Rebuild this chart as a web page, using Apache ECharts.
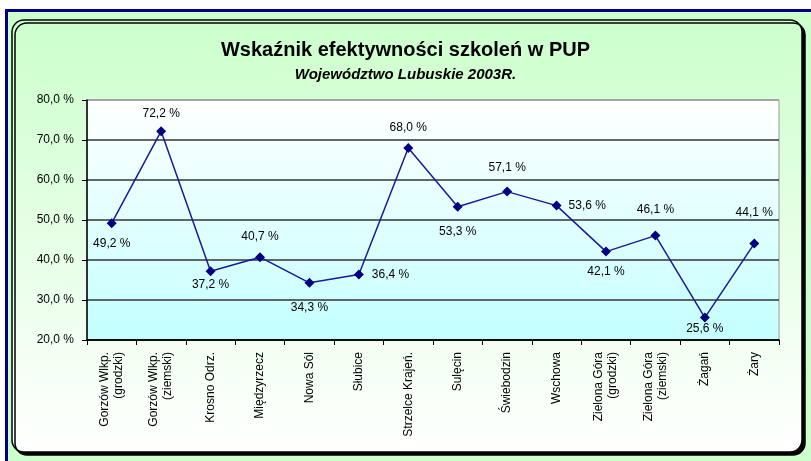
<!DOCTYPE html>
<html>
<head>
<meta charset="utf-8">
<script src="https://cdn.jsdelivr.net/npm/echarts@6/dist/echarts.min.js"></script>
<style>
    html, body { margin: 0; padding: 0; background: #fff; }
    #main { width: 811px; height: 461px; }
</style>
</head>
<body>
<div id="main"></div>
<script>
// dane z wykresu
var powiaty = ['Gorzów Wlkp.\n(grodzki)', 'Gorzów Wlkp.\n(ziemski)', 'Krosno Odrz.', 'Międzyrzecz', 'Nowa Sól',
    'Słubice', 'Strzelce Krajeń.', 'Sulęcin', 'Świebodzin', 'Wschowa',
    'Zielona Góra\n(grodzki)', 'Zielona Góra\n(ziemski)', 'Żagań', 'Żary'];
var wskaznik = [49.2, 72.2, 37.2, 40.7, 34.3, 36.4, 68.0, 53.3, 57.1, 53.6, 42.1, 46.1, 25.6, 44.1];
// gdzie stoi etykieta danej i jak daleko od punktu
var pozycje = ['bottom', 'top', 'bottom', 'top', 'bottom', 'right', 'top', 'bottom', 'top', 'right', 'bottom', 'top', 'bottom', 'top'];
var odstepy = [9, 7, 2, 10, 14, 8, 9, 14, 13, 7, 9, 15, 0, 20];

var myChart = echarts.init(document.getElementById('main'));

function procent(v) {
    return v.toFixed(1).replace('.', ',') + ' %';
}

var punkty = wskaznik.map(function (v, i) {
    return { value: v, label: { position: pozycje[i], distance: odstepy[i] } };
});

var option = {
    backgroundColor: '#ccffcc',
    textStyle: { fontFamily: 'Liberation Sans, Arial, sans-serif' },
    title: {
        text: 'Wskaźnik efektywności szkoleń w PUP',
        subtext: 'Województwo Lubuskie 2003R.',
        left: 'center',
        top: 35,
        itemGap: 7,
        textStyle: { fontSize: 20, fontWeight: 'bold', color: '#000' },
        subtextStyle: { fontSize: 15, fontWeight: 'bold', fontStyle: 'italic', color: '#000' }
    },
    graphic: [
        // biały pasek i granatowa ramka
        { type: 'rect', z: -20, shape: { x: 0, y: 0, width: 811, height: 10 }, style: { fill: '#fff' } },
        { type: 'rect', z: -20, shape: { x: 0, y: 0, width: 5, height: 461 }, style: { fill: '#fff' } },
        { type: 'rect', z: -19, shape: { x: 5, y: 9, width: 806, height: 3 }, style: { fill: '#000080' } },
        { type: 'rect', z: -19, shape: { x: 5, y: 9, width: 3, height: 452 }, style: { fill: '#000080' } },
        // zaokrąglona ramka wykresu
        {
            type: 'rect', z: -18,
            shape: { x: 12, y: 20, width: 790, height: 432, r: 12 },
            style: {
                fill: new echarts.graphic.LinearGradient(0, 0, 0, 1, [
                    { offset: 0, color: '#ccffcc' },
                    { offset: 1, color: '#ffffff' }
                ]),
                stroke: '#000',
                lineWidth: 1.5,
                shadowColor: '#000',
                shadowOffsetX: 3,
                shadowOffsetY: 3,
                shadowBlur: 0
            }
        }
    ],
    grid: {
        left: 87,
        right: 32,
        top: 100,
        bottom: 121,
        show: true,
        borderColor: '#999',
        borderWidth: 1,
        backgroundColor: new echarts.graphic.LinearGradient(0, 0, 0, 1, [
            { offset: 0, color: '#ffffff' },
            { offset: 1, color: '#c4ffff' }
        ])
    },
    xAxis: {
        type: 'category',
        data: powiaty,
        boundaryGap: true,
        axisLine: { lineStyle: { color: '#000', width: 1.5 } },
        axisTick: { show: true, length: 5, lineStyle: { color: '#000' } },
        axisLabel: {
            rotate: 90,
            interval: 0,
            margin: 12,
            fontSize: 12,
            lineHeight: 14,
            color: '#000'
        }
    },
    yAxis: {
        type: 'value',
        min: 20,
        max: 80,
        interval: 10,
        axisLine: { show: true, lineStyle: { color: '#000', width: 1.5 } },
        axisTick: { show: true, length: 5, lineStyle: { color: '#000' } },
        axisLabel: {
            margin: 13,
            fontSize: 12,
            color: '#000',
            formatter: procent
        },
        splitLine: {
            show: true,
            lineStyle: { color: ['#000', '#333', '#333', '#333', '#333', '#333', '#999'], width: 1.5 }
        }
    },
    series: [
        {
            name: 'Wskaźnik',
            type: 'line',
            data: punkty,
            symbol: 'diamond',
            symbolSize: 10,
            itemStyle: { color: '#000080' },
            lineStyle: { color: '#1a1a99', width: 1.5 },
            label: {
                show: true,
                fontSize: 12,
                color: '#000',
                formatter: function (p) { return procent(p.value); }
            }
        }
    ]
};

myChart.setOption(option);
</script>
</body>
</html>
